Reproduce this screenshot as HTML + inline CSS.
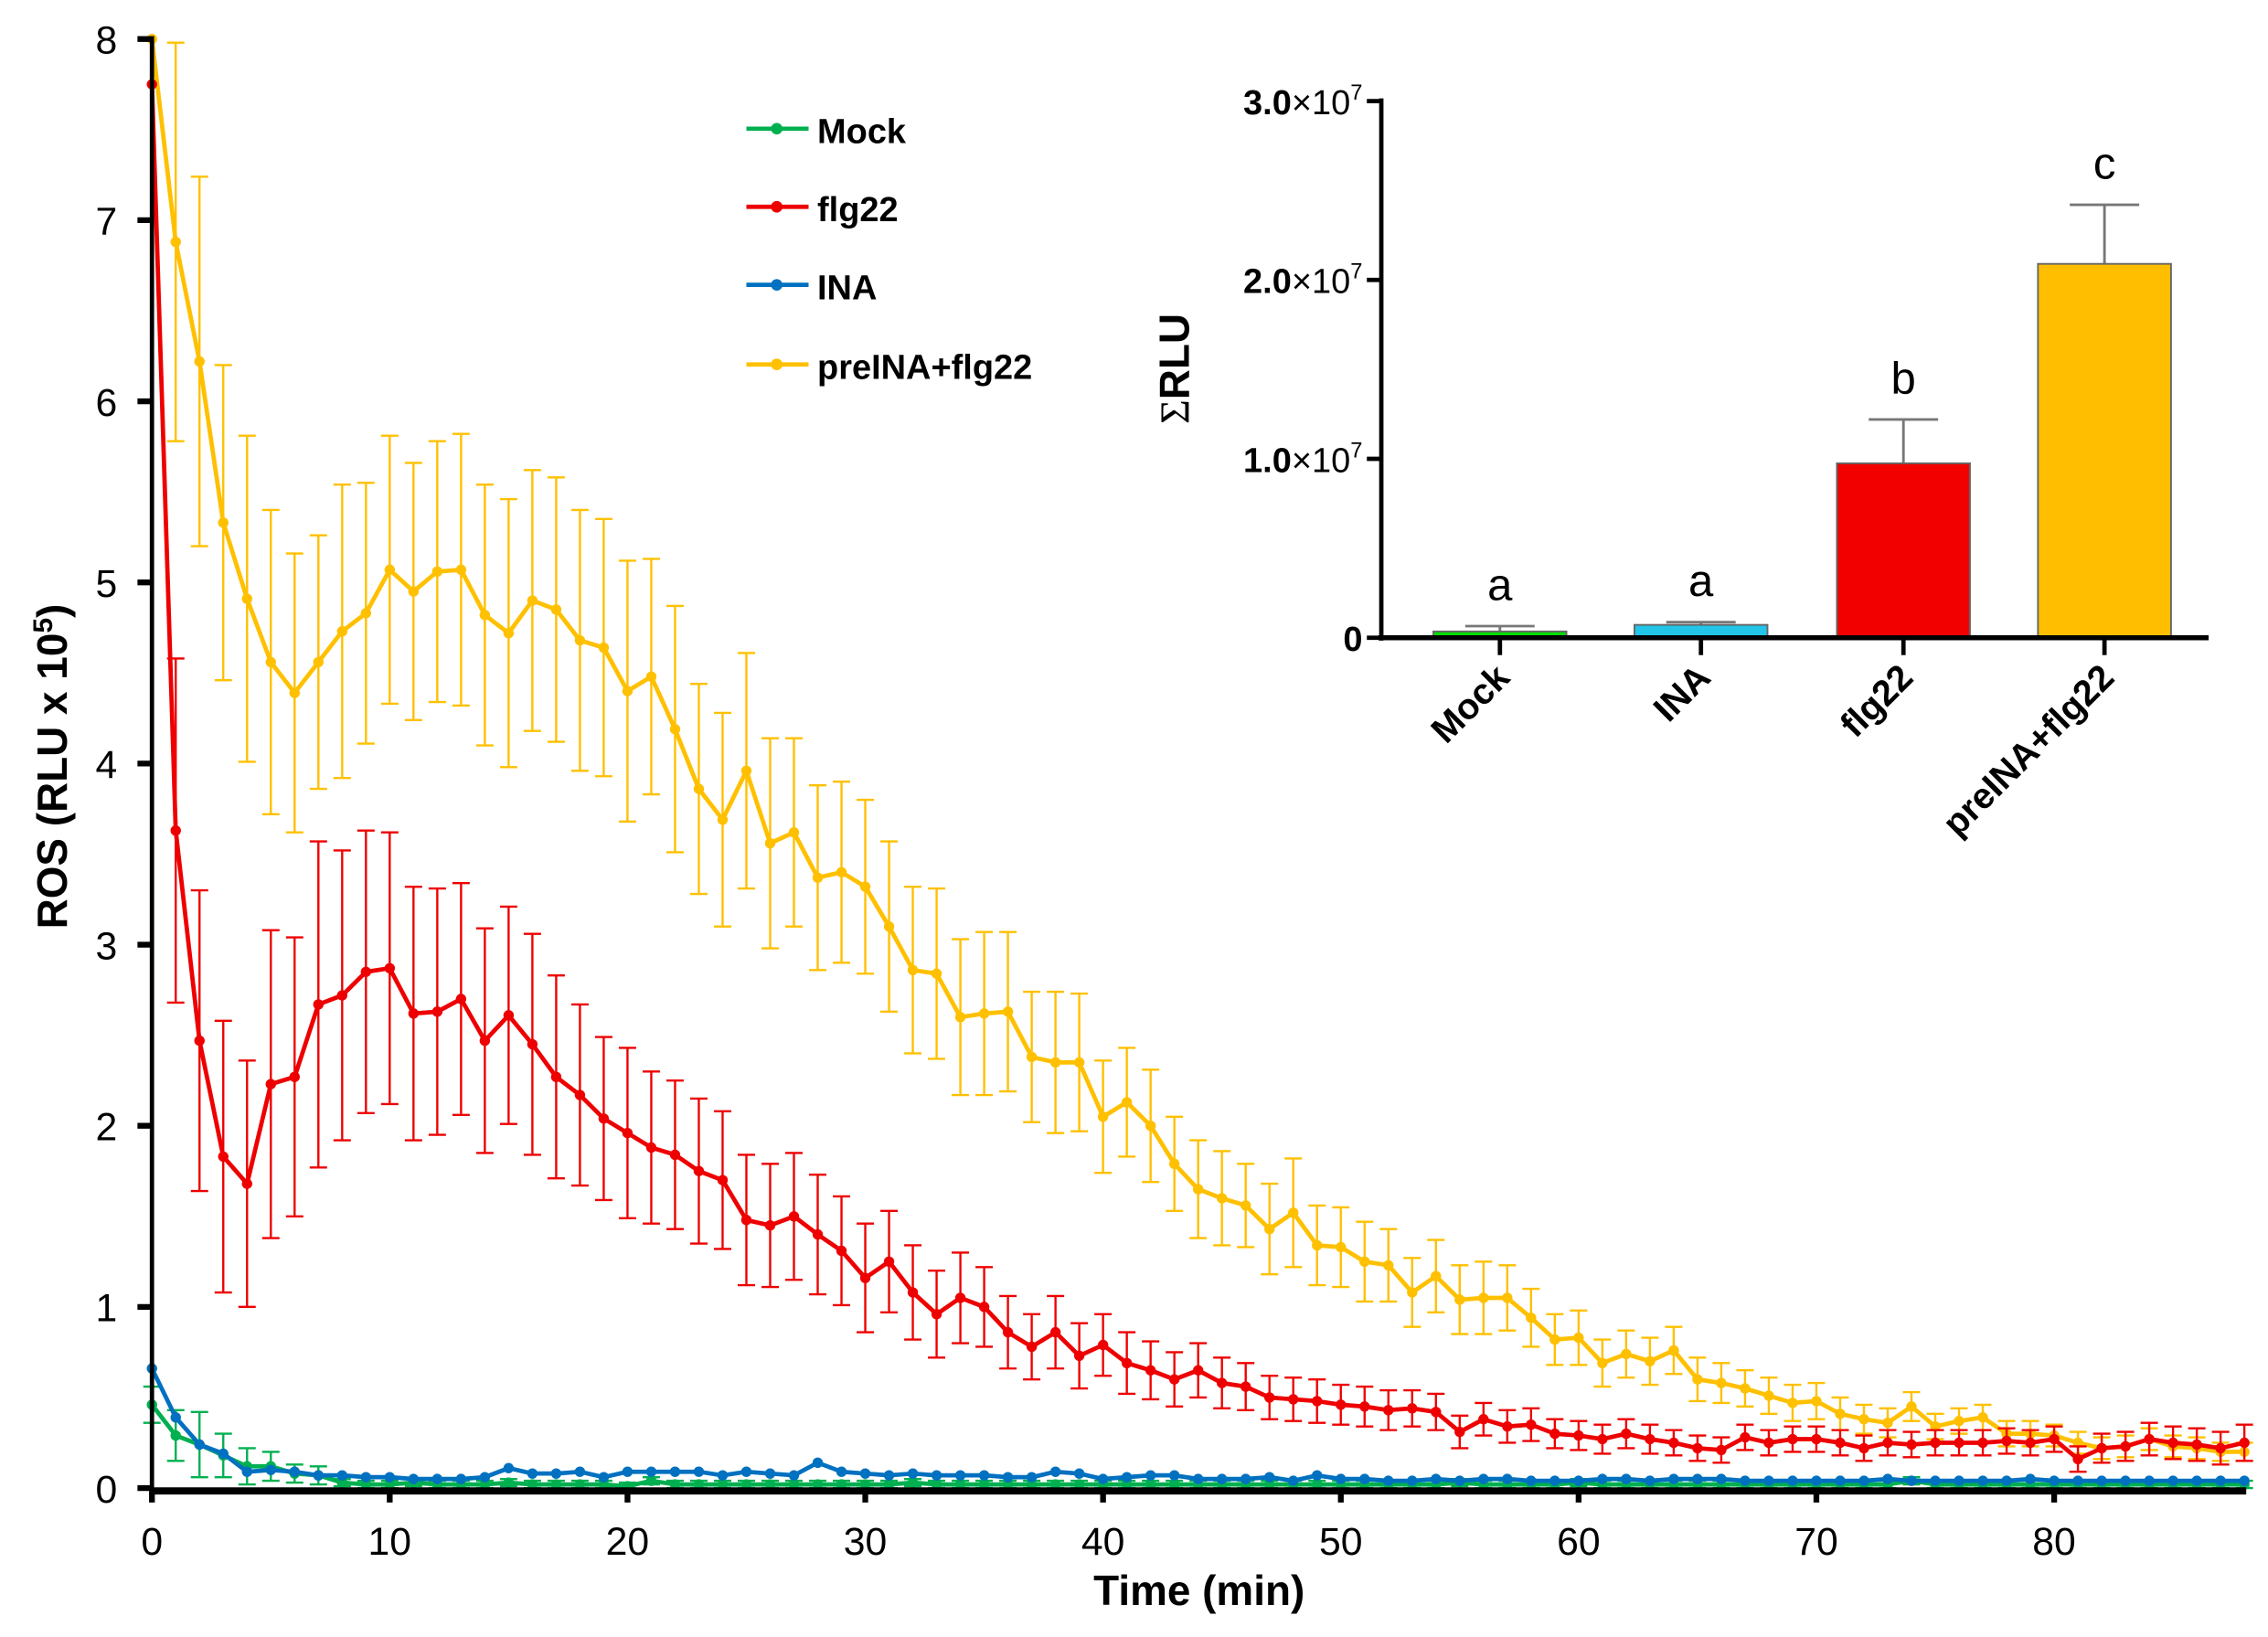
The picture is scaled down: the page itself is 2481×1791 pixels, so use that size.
<!DOCTYPE html>
<html><head><meta charset="utf-8"><style>
html,body{margin:0;padding:0;background:#fff;}
svg{display:block;font-family:"Liberation Sans",Arial,sans-serif;}
</style></head><body>
<svg id="chart" width="2481" height="1791" viewBox="0 0 1568 1132" xmlns="http://www.w3.org/2000/svg">
<g id="main"></g><g id="inset"></g>
</svg>
<script>
const minutes = Array.from({length:89},(_,i)=>i);
const preINA = [8.0,6.88,6.22,5.33,4.91,4.56,4.39,4.56,4.73,4.83,5.07,4.95,5.06,5.07,4.82,4.72,4.90,4.85,4.68,4.64,4.40,4.48,4.19,3.86,3.69,3.96,3.56,3.62,3.37,3.40,3.32,3.10,2.86,2.84,2.60,2.62,2.63,2.38,2.35,2.35,2.05,2.13,2.00,1.79,1.65,1.60,1.56,1.43,1.52,1.34,1.33,1.25,1.23,1.08,1.17,1.04,1.05,1.05,0.94,0.82,0.83,0.69,0.74,0.70,0.76,0.60,0.58,0.55,0.51,0.47,0.48,0.41,0.38,0.36,0.45,0.34,0.37,0.39,0.30,0.30,0.29,0.25,0.22,0.23,0.27,0.23,0.22,0.20,0.20];
const preINAErr = [0,1.1,1.02,0.87,0.9,0.84,0.77,0.7,0.81,0.72,0.74,0.71,0.72,0.75,0.72,0.74,0.72,0.73,0.72,0.71,0.72,0.65,0.68,0.58,0.59,0.65,0.58,0.52,0.51,0.5,0.48,0.47,0.46,0.47,0.43,0.45,0.44,0.36,0.39,0.38,0.31,0.3,0.31,0.26,0.27,0.26,0.23,0.25,0.3,0.22,0.22,0.22,0.2,0.19,0.2,0.19,0.2,0.18,0.16,0.14,0.15,0.13,0.13,0.13,0.13,0.12,0.11,0.1,0.1,0.1,0.1,0.09,0.08,0.08,0.08,0.07,0.07,0.07,0.07,0.07,0.06,0.06,0.06,0.06,0.06,0.06,0.06,0.05,0.05];
const flg22 = [7.75,3.63,2.47,1.83,1.68,2.23,2.27,2.67,2.72,2.85,2.87,2.62,2.63,2.70,2.47,2.61,2.45,2.27,2.17,2.04,1.96,1.88,1.84,1.75,1.70,1.48,1.45,1.50,1.40,1.31,1.16,1.25,1.08,0.96,1.05,1.00,0.86,0.78,0.86,0.73,0.79,0.69,0.65,0.60,0.65,0.58,0.56,0.50,0.49,0.48,0.46,0.45,0.43,0.44,0.42,0.31,0.38,0.34,0.35,0.30,0.29,0.27,0.30,0.27,0.25,0.22,0.21,0.28,0.25,0.27,0.27,0.25,0.22,0.25,0.24,0.25,0.25,0.25,0.26,0.25,0.27,0.16,0.22,0.23,0.27,0.25,0.24,0.22,0.25];
const flg22Err = [0,0.95,0.83,0.75,0.68,0.85,0.77,0.9,0.8,0.78,0.75,0.7,0.68,0.64,0.62,0.6,0.61,0.56,0.5,0.45,0.47,0.42,0.41,0.4,0.38,0.36,0.34,0.35,0.33,0.3,0.3,0.28,0.26,0.24,0.25,0.22,0.2,0.18,0.2,0.18,0.17,0.17,0.16,0.15,0.15,0.14,0.13,0.12,0.12,0.12,0.11,0.11,0.11,0.1,0.1,0.09,0.09,0.09,0.09,0.08,0.08,0.08,0.08,0.08,0.07,0.07,0.07,0.07,0.07,0.07,0.07,0.07,0.07,0.07,0.07,0.07,0.07,0.07,0.07,0.07,0.07,0.07,0.08,0.08,0.09,0.09,0.09,0.09,0.1];
const ina = [0.66,0.39,0.24,0.19,0.09,0.10,0.09,0.07,0.07,0.06,0.06,0.05,0.05,0.05,0.06,0.11,0.08,0.08,0.09,0.06,0.09,0.09,0.09,0.09,0.07,0.09,0.08,0.07,0.14,0.09,0.08,0.07,0.08,0.07,0.07,0.07,0.06,0.06,0.09,0.08,0.05,0.06,0.07,0.07,0.05,0.05,0.05,0.06,0.04,0.07,0.05,0.05,0.04,0.04,0.05,0.04,0.05,0.05,0.04,0.04,0.04,0.05,0.05,0.04,0.05,0.05,0.05,0.04,0.04,0.04,0.04,0.04,0.04,0.05,0.04,0.04,0.04,0.04,0.04,0.05,0.04,0.04,0.04,0.04,0.04,0.04,0.04,0.04,0.04];
const mock = [0.46,0.29,0.24,0.18,0.12,0.12,0.08,0.07,0.03,0.02,0.02,0.03,0.02,0.02,0.02,0.03,0.02,0.02,0.02,0.02,0.01,0.04,0.02,0.02,0.02,0.02,0.02,0.02,0.02,0.02,0.02,0.02,0.03,0.02,0.02,0.02,0.02,0.02,0.02,0.02,0.02,0.02,0.02,0.02,0.02,0.02,0.02,0.02,0.02,0.02,0.02,0.02,0.02,0.02,0.02,0.03,0.02,0.02,0.02,0.02,0.03,0.02,0.02,0.02,0.02,0.02,0.02,0.02,0.02,0.02,0.02,0.02,0.02,0.02,0.04,0.02,0.02,0.02,0.02,0.02,0.02,0.02,0.02,0.02,0.02,0.02,0.02,0.02,0.02];
const mockErr = [0.1,0.14,0.18,0.12,0.1,0.08,0.05,0.05,0.02,0.02,0.02,0.02,0.02,0.02,0.02,0.02,0.02,0.02,0.02,0.02,0.02,0.02,0.02,0.02,0.02,0.02,0.02,0.02,0.02,0.02,0.02,0.02,0.02,0.02,0.02,0.02,0.02,0.02,0.02,0.02,0.02,0.02,0.02,0.02,0.02,0.02,0.02,0.02,0.02,0.02,0.02,0.02,0.02,0.02,0.02,0.02,0.02,0.02,0.02,0.02,0.02,0.02,0.02,0.02,0.02,0.02,0.02,0.02,0.02,0.02,0.02,0.02,0.02,0.02,0.02,0.02,0.02,0.02,0.02,0.02,0.02,0.02,0.02,0.02,0.02,0.02,0.02,0.02,0.02];
const xTicks = [0,10,20,30,40,50,60,70,80];
const yTicks = [0,1,2,3,4,5,6,7,8];
const barCats = ["Mock","INA","flg22","preINA+flg22"];
const barVals = [0.35e6,0.72e6,9.75e6,20.9e6];
const barErrs = [0.3e6,0.15e6,2.45e6,3.3e6];
const barLetters = ["a","a","b","c"];
const barTicks = [0,1e7,2e7,3e7];
const barTickLabels = ["0","1.0","2.0","3.0"];

const NS="http://www.w3.org/2000/svg";
function mk(p,t,a){const e=document.createElementNS(NS,t);for(const k in a)e.setAttribute(k,a[k]);p.appendChild(e);return e;}
const X=t=>105+t*16.44, Y=v=>1029-v*125.25;
const main=document.getElementById('main');

const series=[
 {name:"mock",label:"Mock",color:"#00b050",vals:mock,err:mockErr},
 {name:"ina",label:"INA",color:"#0070c0",vals:ina,err:null},
 {name:"flg22",label:"flg22",color:"#ee0000",vals:flg22,err:flg22Err},
 {name:"preina-flg22",label:"preINA+flg22",color:"#ffc000",vals:preINA,err:preINAErr}];
const order=[3,2,0,1];
order.forEach(si=>{
 const s=series[si];
 const g=mk(main,'g',{});
 
 
 if(s.err){s.vals.forEach((v,i)=>{const e=s.err[i];if(!e)return;const x=X(minutes[i]);
  const eb=mk(g,'path',{d:`M${x},${Y(v+e)}V${Y(Math.max(0,v-e))}M${x-6},${Y(v+e)}h12M${x-6},${Y(Math.max(0,v-e))}h12`,stroke:s.color,'stroke-width':1.5,fill:'none'});
  
  });}
 const ln=mk(g,'polyline',{points:s.vals.map((v,i)=>X(minutes[i])+','+Y(v)).join(' '),fill:'none',stroke:s.color,'stroke-width':3,'stroke-linejoin':'round'});
 
 
 s.vals.forEach((v,i)=>{const c=mk(g,'circle',{cx:X(minutes[i]),cy:Y(v),r:3.6,fill:s.color});
  
  });
});
const ax=mk(main,'g',{});


mk(ax,'line',{x1:105,y1:1031,x2:1553,y2:1031,stroke:'#000','stroke-width':5});
mk(ax,'line',{x1:105,y1:25,x2:105,y2:1031,stroke:'#000','stroke-width':3});
xTicks.forEach(t=>{mk(ax,'line',{x1:X(t),y1:1031,x2:X(t),y2:1039,stroke:'#000','stroke-width':4});
 const tx=mk(ax,'text',{x:X(t),y:1075,'font-size':27,'text-anchor':'middle'});tx.textContent=t;
 
 });
yTicks.forEach(t=>{mk(ax,'line',{x1:95,y1:Y(t),x2:105,y2:Y(t),stroke:'#000','stroke-width':4});
 const tx=mk(ax,'text',{x:81,y:Y(t)+10,'font-size':27,'text-anchor':'end'});tx.textContent=t;
 
 });
const xt=mk(ax,'text',{x:829,y:1110,'font-size':29,'font-weight':'bold','text-anchor':'middle'});xt.textContent='Time (min)';


const yt=mk(ax,'text',{transform:'translate(46,530) rotate(-90)','font-size':29,'font-weight':'bold','text-anchor':'middle'});
yt.innerHTML='ROS (RLU x 10<tspan dy="-10" font-size="19">5</tspan><tspan dy="10">)</tspan>';


const legY=[91,145,199,254];
[0,2,1,3].forEach((si,k)=>{const s=series[si];const g=mk(main,'g',{});
 
 
 mk(g,'line',{x1:516,y1:legY[k]-2,x2:559,y2:legY[k]-2,stroke:s.color,'stroke-width':3});
 mk(g,'circle',{cx:537,cy:legY[k]-2,r:4,fill:s.color});
 const t=mk(g,'text',{x:565,y:legY[k]+8,'font-size':24,'font-weight':'bold'});t.textContent=s.label;});

const ins=document.getElementById('inset');


const BY=v=>441-v/1e7*123.7;
const barX=[1037,1176,1316,1455];
const barCol=["#00dd00","#22c4e8","#f20000","#ffbf00"];
barVals.forEach((v,i)=>{
 const e=barErrs[i];
 const eb=mk(ins,'path',{d:`M${barX[i]},${BY(v)}V${BY(v+e)}M${barX[i]-24},${BY(v+e)}h48`,stroke:'#777','stroke-width':1.8,fill:'none'});
 
 
 const r=mk(ins,'rect',{x:barX[i]-46,y:BY(v),width:92,height:441-BY(v),fill:barCol[i],stroke:'#666','stroke-width':1.2});
 
 
 const lt=mk(ins,'text',{x:barX[i],y:BY(v+e)-18,'font-size':31,'text-anchor':'middle'});lt.textContent=barLetters[i];
 
 
 mk(ins,'line',{x1:barX[i],y1:441,x2:barX[i],y2:453,stroke:'#000','stroke-width':3});
 const cl=mk(ins,'text',{transform:`translate(${barX[i]+8},${470}) rotate(-45)`,'font-size':25,'font-weight':'bold','text-anchor':'end'});cl.textContent=barCats[i];
 
 
});
mk(ins,'line',{x1:953,y1:441,x2:1527,y2:441,stroke:'#000','stroke-width':3.5});
mk(ins,'line',{x1:955,y1:68,x2:955,y2:443,stroke:'#000','stroke-width':3});
barTicks.forEach((t,i)=>{mk(ins,'line',{x1:945,y1:BY(t),x2:955,y2:BY(t),stroke:'#000','stroke-width':3});
 const tx=mk(ins,'text',{x:942,y:BY(t)+9,'font-size':24,'font-weight':'bold','text-anchor':'end'});
 tx.innerHTML=i===0?'0':barTickLabels[i]+'<tspan font-weight="normal">×10</tspan><tspan dy="-10" font-size="15" font-weight="normal">7</tspan>';
 
 });
const it=mk(ins,'text',{transform:'translate(822,255) rotate(-90)','font-size':29,'font-weight':'bold','text-anchor':'middle'});
it.innerHTML='<tspan font-family="Liberation Serif" font-weight="normal">Σ</tspan>RLU';


</script>
</body></html>
